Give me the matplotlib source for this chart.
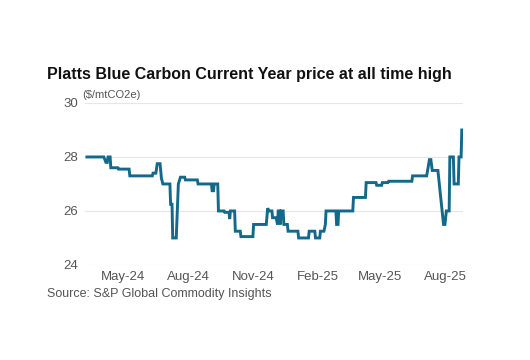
"""
Platts Blue Carbon Current Year price, step-like daily assessment line.
Output: out.png (530x360)
"""

import matplotlib.pyplot as plt
import matplotlib.dates as mdates
import numpy as np

plt.rcParams["font.family"] = ["Liberation Sans", "DejaVu Sans"]

# ── data ──────────────────────────────────────────────────────────────────────

dates = [
    "2024-03-10", "2024-04-03", "2024-04-06", "2024-04-08", "2024-04-09",
    "2024-04-12", "2024-04-13", "2024-04-23", "2024-04-24", "2024-05-09",
    "2024-05-10", "2024-06-11", "2024-06-12", "2024-06-16", "2024-06-18",
    "2024-06-22", "2024-06-24", "2024-06-26", "2024-07-06", "2024-07-07",
    "2024-07-09", "2024-07-10", "2024-07-15", "2024-07-18", "2024-07-21",
    "2024-07-27", "2024-07-28", "2024-08-14", "2024-08-15", "2024-09-03",
    "2024-09-04", "2024-09-06", "2024-09-07", "2024-09-12", "2024-09-13",
    "2024-09-21", "2024-09-22", "2024-09-28", "2024-09-29", "2024-09-30",
    "2024-10-06", "2024-10-07", "2024-10-14", "2024-10-15", "2024-11-01",
    "2024-11-02", "2024-11-20", "2024-11-22", "2024-11-24", "2024-11-28",
    "2024-11-29", "2024-12-04", "2024-12-06", "2024-12-07", "2024-12-09",
    "2024-12-10", "2024-12-11", "2024-12-14", "2024-12-15", "2024-12-20",
    "2024-12-21", "2025-01-04", "2025-01-05", "2025-01-19", "2025-01-20",
    "2025-01-28", "2025-01-29", "2025-02-04", "2025-02-05", "2025-02-10",
    "2025-02-12", "2025-02-13", "2025-02-27", "2025-02-28", "2025-03-02",
    "2025-03-03", "2025-03-23", "2025-03-24", "2025-04-10", "2025-04-11",
    "2025-04-25", "2025-04-26", "2025-05-03", "2025-05-04", "2025-05-12",
    "2025-05-13", "2025-06-15", "2025-06-16", "2025-07-06", "2025-07-10",
    "2025-07-12", "2025-07-14", "2025-07-22", "2025-07-24", "2025-07-26",
    "2025-07-30", "2025-08-01", "2025-08-03", "2025-08-07", "2025-08-08",
    "2025-08-13", "2025-08-14", "2025-08-20", "2025-08-21", "2025-08-24",
    "2025-08-25",
]
prices = [
    28.0, 28.0, 27.8, 27.8, 28.0,
    28.0, 27.6, 27.6, 27.55, 27.55,
    27.3, 27.3, 27.4, 27.4, 27.75,
    27.75, 27.2, 27.0, 27.0, 26.25,
    26.25, 25.0, 25.0, 27.0, 27.25,
    27.25, 27.15, 27.15, 27.0, 27.0,
    26.75, 26.75, 27.0, 27.0, 26.0,
    26.0, 25.95, 25.95, 25.7, 26.0,
    26.0, 25.25, 25.25, 25.05, 25.05,
    25.5, 25.5, 26.1, 26.0, 26.0,
    25.75, 25.75, 25.5, 26.0, 26.0,
    25.5, 26.0, 26.0, 25.5, 25.5,
    25.25, 25.25, 25.0, 25.0, 25.25,
    25.25, 25.0, 25.0, 25.25, 25.25,
    25.5, 26.0, 26.0, 25.5, 25.5,
    26.0, 26.0, 26.5, 26.5, 27.05,
    27.05, 26.95, 26.95, 27.05, 27.05,
    27.1, 27.1, 27.3, 27.3, 27.9,
    27.9, 27.5, 27.5, 27.0, 26.5,
    25.5, 25.5, 26.0, 26.0, 28.0,
    28.0, 27.0, 27.0, 28.0, 28.0,
    29.0,
]

x = np.array(dates, dtype="datetime64[D]")
y = np.array(prices)

yticks = [24, 26, 28, 30]
xticks = ["2024-05-01", "2024-08-01", "2024-11-01",
          "2025-02-01", "2025-05-01", "2025-08-01"]

# ── plot ──────────────────────────────────────────────────────────────────────

fig = plt.figure(figsize=(5.3, 3.6), dpi=100)
ax = fig.add_axes([0.160, 0.264, 0.714, 0.450])

ax.plot(x, y, color="#13698a", linewidth=2.1, solid_joinstyle="miter")

ax.set_ylim(24, 30)
ax.set_yticks(yticks)
ax.set_xlim(np.datetime64("2024-03-07"), np.datetime64("2025-08-27"))
ax.set_xticks(np.array(xticks, dtype="datetime64[D]"))
ax.xaxis.set_major_formatter(mdates.DateFormatter("%b-%y"))

ax.grid(axis="y", color="#e6e6e6", linewidth=0.8)
ax.set_axisbelow(True)
for s in ax.spines.values():
    s.set_visible(False)
ax.tick_params(length=0, labelsize=9.5, labelcolor="#555555")
ax.tick_params(axis="y", pad=5)
ax.tick_params(axis="x", pad=4)

fig.text(0.088, 0.792, "Platts Blue Carbon Current Year price at all time high",
         fontsize=11.5, fontweight="bold", color="#111111", va="center")
fig.text(0.155, 0.737, "($/mtCO2e)", fontsize=8, color="#555555", va="center")
fig.text(0.088, 0.183, "Source: S&P Global Commodity Insights",
         fontsize=9, color="#555555", va="center")

fig.savefig("out.png", dpi=100)
